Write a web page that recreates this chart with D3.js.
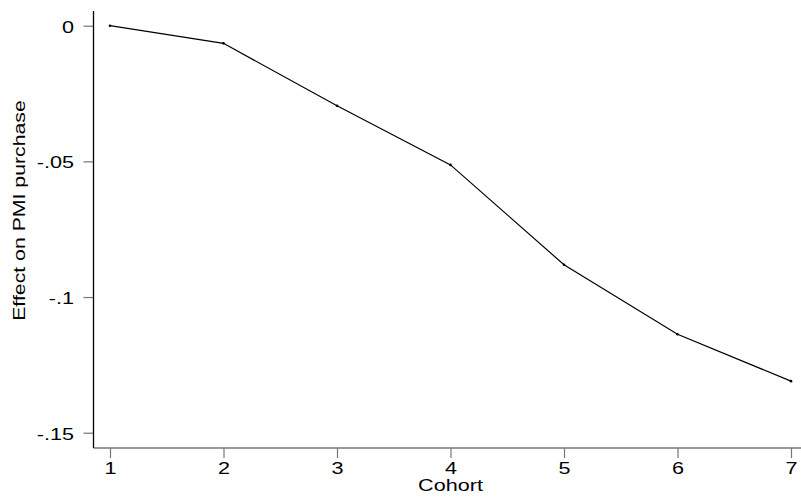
<!DOCTYPE html>
<html>
<head>
<meta charset="utf-8">
<script src="https://cdn.jsdelivr.net/npm/d3@7"></script>
<style>
  body { margin: 0; background: #fff; }
  text { font-family: "Liberation Sans", Arial, sans-serif; fill: #000; }
</style>
</head>
<body>
<div id="chart"></div>
<script>
// data
const cohorts = [1, 2, 3, 4, 5, 6, 7];
const effects = [0, -0.0065, -0.0295, -0.0513, -0.0881, -0.1137, -0.131];
const yTicks = [0, -0.05, -0.1, -0.15];
const yTickLabels = ["0", "-.05", "-.1", "-.15"];
const xLabel = "Cohort";
const yLabel = "Effect on PMI purchase";

const W = 801, H = 500;
const stretch = 1.35; // text in the original is drawn wide

const svg = d3.select("#chart").append("svg")
  .attr("width", W).attr("height", H);

const xScale = d3.scaleLinear().domain([1, 7]).range([110, 791]);
const yScale = d3.scaleLinear().domain([-0.15, 0]).range([432.7, 25.7]);

const axisX0 = 93.5, axisY0 = 448;

// x axis
const xAxis = svg.append("g")
  .attr("transform", "translate(0," + axisY0 + ")")
  .call(d3.axisBottom(xScale).tickValues(cohorts).tickSize(10).tickPadding(4).tickFormat(d3.format("d")));
xAxis.select(".domain").remove();
xAxis.append("line")
  .attr("x1", axisX0).attr("x2", W).attr("y1", 0).attr("y2", 0)
  .attr("stroke", "#777").attr("stroke-width", 1.5);
xAxis.selectAll(".tick line").attr("stroke", "#777").attr("stroke-width", 1.2);
xAxis.selectAll(".tick text")
  .attr("font-size", 16)
  .attr("y", 26).attr("dy", 0)
  .attr("transform", "scale(" + stretch + ",1)");

// y axis
const yAxis = svg.append("g")
  .attr("transform", "translate(" + axisX0 + ",0)")
  .call(d3.axisLeft(yScale).tickValues(yTicks).tickSize(10)
    .tickFormat((d, i) => yTickLabels[i]));
yAxis.select(".domain").remove();
yAxis.append("line")
  .attr("x1", 0).attr("x2", 0).attr("y1", 11).attr("y2", axisY0)
  .attr("stroke", "#000").attr("stroke-width", 1.3);
yAxis.selectAll(".tick line").attr("stroke", "#777").attr("stroke-width", 1.2);
yAxis.selectAll(".tick text")
  .attr("font-size", 16)
  .attr("x", -19.5 / stretch).attr("dy", "0.4em")
  .attr("transform", "scale(" + stretch + ",1)");

// axis titles
svg.append("text")
  .attr("transform", "translate(450.5,490.5) scale(" + stretch + ",1)")
  .attr("text-anchor", "middle").attr("font-size", 16)
  .text(xLabel);
svg.append("text")
  .attr("transform", "translate(24.5,210.5) rotate(-90) scale(" + 1.33 + ",1)")
  .attr("text-anchor", "middle").attr("font-size", 16)
  .text(yLabel);

// line and markers
const pts = cohorts.map((c, i) => ({ x: c, y: effects[i] }));
const line = d3.line().x(d => xScale(d.x)).y(d => yScale(d.y));
svg.append("path")
  .datum(pts)
  .attr("d", line)
  .attr("fill", "none").attr("stroke", "#000").attr("stroke-width", 1.2);
svg.selectAll("circle.pt").data(pts).join("circle")
  .attr("class", "pt")
  .attr("cx", d => xScale(d.x)).attr("cy", d => yScale(d.y))
  .attr("r", 1.3).attr("fill", "#000");
</script>
</body>
</html>
